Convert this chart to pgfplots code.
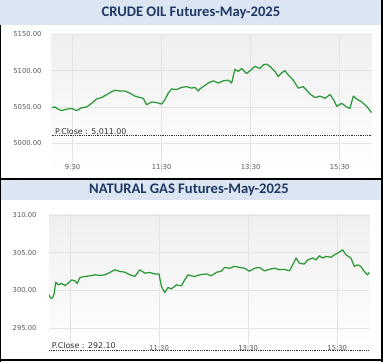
\documentclass[border=0pt]{standalone}
\usepackage{pgfplots}
\pgfplotsset{compat=1.18}
\usepackage{fontspec}
\setmainfont{DejaVu Sans}
\newfontfamily\titlefont{Carlito}
\definecolor{titlebg}{HTML}{DCE6F2}
\definecolor{titlefg}{HTML}{1F3864}
\definecolor{linegreen}{HTML}{2B9837}
\definecolor{ticklab}{HTML}{5A5A5A}
\definecolor{gridc}{HTML}{E4E4E4}
\definecolor{bgtop}{HTML}{EFEFEF}
\definecolor{pclose}{HTML}{333333}

\pgfplotsset{
  panel/.style={
    scale only axis, height=138pt,
    xmin=9.03, xmax=16.22,
    axis line style={draw=none}, major tick length=0pt,
    xtick={9.5,11.5,13.5,15.5},
    grid=major, major grid style={gridc, line width=0.6pt},
    axis background/.style={top color=bgtop, bottom color=white},
    tick label style={font=\fontsize{6.8}{7}\selectfont, text=ticklab},
    xticklabel style={anchor=south, inner sep=0pt, yshift=1.8pt},
    yticklabel style={anchor=east, inner sep=0pt},
  },
  pline/.style={pclose, line width=0.8pt, dash pattern=on 0.7pt off 1.1pt},
  gline/.style={linegreen, line width=1.25pt, line join=round},
}

\begin{document}
\begin{tikzpicture}
\path[use as bounding box] (0,0) rectangle (383pt,362pt);
% title bars
\fill[titlebg] (0,337pt) rectangle (383pt,362pt);
\node[font=\titlefont\bfseries\fontsize{14.6}{16}\selectfont, text=titlefg] at (191pt,349pt) {CRUDE OIL Futures-May-2025};
\fill[titlebg] (0,162pt) rectangle (383pt,181.5pt);
\node[font=\titlefont\bfseries\fontsize{14.6}{16}\selectfont, text=titlefg] at (189pt,172pt) {NATURAL GAS Futures-May-2025};

% crude oil
\begin{axis}[panel, at={(51.7pt,190pt)}, anchor=south west, width=320pt,
  ymin=4960.5, ymax=5150.5,
  ytick={5000,5050,5100,5150},
  yticklabels={5000.00,5050.00,5100.00,5150.00},
  xticklabels={9:30,11:30,13:30,15:30},
  yticklabel style={xshift=-10pt}]
\addplot[pline] coordinates {(9.03,5011) (16.22,5011)};
\node[anchor=base west, inner sep=0pt, font=\fontsize{7.9}{8}\selectfont, text=pclose] at (axis cs:9.03,5011) [xshift=3.3pt, yshift=1.3pt] {P.Close : 5,011.00};
\addplot[gline] coordinates {
(9.028,5049)(9.102,5050)(9.176,5047)(9.253,5045)(9.365,5047)(9.478,5048)(9.590,5045)(9.702,5049)(9.815,5050)(9.927,5055)(10.039,5061)(10.152,5063)(10.264,5067)(10.376,5071)(10.451,5073)(10.563,5072)(10.675,5072)(10.788,5069)(10.900,5065)(11.012,5063)(11.087,5062)(11.163,5053)(11.276,5057)(11.388,5056)(11.500,5054)(11.574,5060)(11.648,5069)(11.725,5075)(11.837,5074)(11.949,5077)(12.062,5078)(12.174,5076)(12.250,5077)(12.322,5072)(12.361,5075)(12.435,5078)(12.547,5083)(12.660,5086)(12.772,5083)(12.884,5086)(12.997,5087)(13.073,5083)(13.147,5102)(13.221,5099)(13.298,5103)(13.410,5096)(13.522,5102)(13.597,5106)(13.709,5103)(13.783,5108)(13.860,5109)(13.934,5106)(14.046,5099)(14.120,5092)(14.197,5097)(14.271,5100)(14.345,5094)(14.457,5087)(14.570,5076)(14.682,5078)(14.758,5073)(14.833,5068)(14.945,5063)(15.057,5065)(15.170,5062)(15.282,5067)(15.356,5061)(15.433,5051)(15.545,5055)(15.657,5050)(15.731,5048)(15.806,5065)(15.882,5061)(15.994,5057)(16.107,5051)(16.219,5042)
};
\end{axis}

% natural gas
\begin{axis}[panel, at={(49pt,9.7pt)}, anchor=south west, width=320.3pt,
  ymin=291.83, ymax=310.08,
  ytick={295,300,305,310},
  yticklabels={295.00,300.00,305.00,310.00},
  xticklabels={,11:30,13:30,15:30},
  yticklabel style={xshift=-12.3pt}]
\addplot[pline] coordinates {(9.03,292.1) (16.22,292.1)};
\node[anchor=base west, inner sep=0pt, font=\fontsize{7.9}{8}\selectfont, text=pclose] at (axis cs:9.03,292.1) [xshift=2.7pt, yshift=1.3pt] {P.Close : 292.10};
\addplot[gline] coordinates {
(9.030,299.43)(9.068,298.99)(9.113,299.0)(9.148,299.65)(9.180,301.11)(9.238,300.75)(9.314,300.93)(9.388,300.66)(9.462,300.97)(9.538,301.41)(9.612,301.28)(9.663,300.93)(9.724,301.72)(9.836,301.85)(9.948,301.94)(10.060,302.08)(10.172,301.99)(10.284,302.08)(10.396,302.38)(10.508,302.74)(10.620,302.52)(10.732,302.43)(10.844,302.08)(10.956,301.85)(11.068,302.74)(11.180,302.3)(11.292,302.38)(11.404,302.2)(11.500,302.17)(11.554,300.53)(11.628,299.74)(11.702,300.4)(11.778,300.22)(11.890,300.75)(12.002,300.62)(12.076,301.41)(12.150,302.08)(12.188,302.0)(12.261,301.9)(12.300,301.85)(12.412,302.08)(12.562,302.2)(12.674,301.95)(12.786,302.4)(12.898,302.55)(12.971,303.05)(13.083,302.95)(13.195,303.2)(13.307,303.05)(13.419,302.95)(13.531,302.55)(13.643,302.95)(13.755,303.05)(13.867,302.6)(13.979,302.8)(14.091,302.95)(14.203,302.75)(14.315,302.8)(14.427,302.6)(14.501,303.4)(14.577,304.3)(14.651,303.6)(14.763,303.5)(14.837,304.05)(14.949,304.3)(15.025,304.05)(15.099,304.6)(15.173,304.3)(15.249,304.5)(15.361,304.4)(15.435,304.72)(15.509,304.94)(15.621,305.38)(15.697,304.72)(15.809,304.28)(15.883,303.18)(15.957,303.4)(16.033,303.18)(16.107,302.5)(16.181,302.08)(16.219,302.4)
};
\end{axis}

% frame lines
\draw[black, line width=2.4pt] (0,182.8pt) -- (383pt,182.8pt);
\draw[black, line width=2pt] (382pt,0) -- (382pt,362pt);
\draw[black, line width=1.4pt] (0.7pt,0) -- (0.7pt,337pt);
\draw[black, line width=2.4pt] (0,2.3pt) -- (383pt,2.3pt);
\end{tikzpicture}
\end{document}
